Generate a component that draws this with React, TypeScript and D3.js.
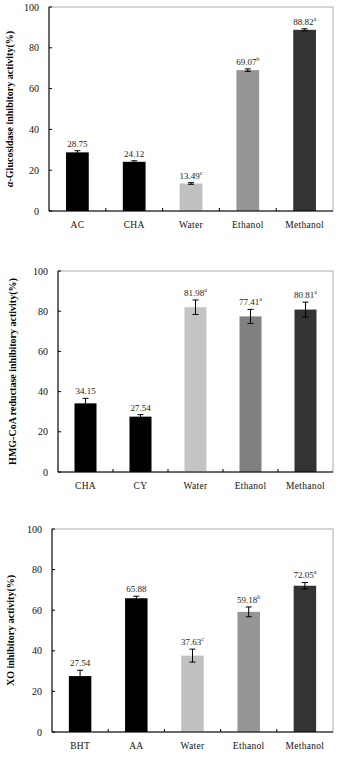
import React from 'react'
import * as d3 from 'd3'

// panel 1: alpha-glucosidase
const glucoCats = ['AC', 'CHA', 'Water', 'Ethanol', 'Methanol']
const glucoVals = [28.75, 24.12, 13.49, 69.07, 88.82]
const glucoErr = [0.8, 0.5, 0.4, 0.6, 0.5]
const glucoSup = ['', '', 'c', 'b', 'a']
const glucoColors = ['#000000', '#000000', '#c0c0c0', '#969696', '#333333']

// panel 2: HMG-CoA reductase
const hmgCats = ['CHA', 'CY', 'Water', 'Ethanol', 'Methanol']
const hmgVals = [34.15, 27.54, 81.98, 77.41, 80.81]
const hmgErr = [2.5, 1.0, 3.6, 3.5, 3.7]
const hmgSup = ['', '', 'a', 'a', 'a']
const hmgColors = ['#000000', '#000000', '#c4c4c4', '#808080', '#333333']

// panel 3: XO
const xoCats = ['BHT', 'AA', 'Water', 'Ethanol', 'Methanol']
const xoVals = [27.54, 65.88, 37.63, 59.18, 72.05]
const xoErr = [2.9, 1.0, 3.2, 2.4, 1.6]
const xoSup = ['', '', 'c', 'b', 'a']
const xoColors = ['#000000', '#000000', '#c0c0c0', '#969696', '#333333']

const yTicks = [0, 20, 40, 60, 80, 100]

const serif = '"Liberation Serif", "Times New Roman", serif'

function Panel(props) {
  const { cats, vals, errs, sups, colors, title, top, left, bottom, titleX } = props
  const right = 333

  const x = d3.scaleBand().domain(cats).range([left, right]).paddingInner(0.6).paddingOuter(0.3)
  const y = d3.scaleLinear().domain([0, 100]).range([bottom, top])
  const step = x.step()

  return (
    <g>
      {/* frame */}
      <rect x={left} y={top} width={right - left} height={bottom - top} fill="none" stroke="#aaaaaa" strokeWidth={1} />
      {cats.map((c, i) => {
        const bx = x(c)
        const v = vals[i]
        const e = errs[i]
        const cx = bx + x.bandwidth() / 2
        return (
          <g key={c}>
            <rect x={bx} y={y(v)} width={x.bandwidth()} height={bottom - y(v)} fill={colors[i]} />
            <line x1={cx} x2={cx} y1={y(v + e)} y2={y(v - e)} stroke="#000" strokeWidth={1} />
            <line x1={cx - 3} x2={cx + 3} y1={y(v + e)} y2={y(v + e)} stroke="#000" strokeWidth={1} />
            <line x1={cx - 3} x2={cx + 3} y1={y(v - e)} y2={y(v - e)} stroke="#000" strokeWidth={1} />
            <text x={cx} y={y(v + e) - 4} textAnchor="middle" fontSize={9} fontFamily={serif} fill="#222">
              {v.toFixed(2)}
              {sups[i] && <tspan fontSize={6} dy={-4}>{sups[i]}</tspan>}
            </text>
            <text x={cx} y={bottom + 17} textAnchor="middle" fontSize={9.5} fontFamily={serif} fill="#111" letterSpacing={0.3}>{c}</text>
            {i > 0 && (
              <line x1={cx - step / 2} x2={cx - step / 2} y1={bottom} y2={bottom - 3} stroke="#000" strokeWidth={1} />
            )}
          </g>
        )
      })}
      {/* axes */}
      <line x1={left} x2={left} y1={top} y2={bottom} stroke="#000" strokeWidth={1} />
      <line x1={left} x2={right} y1={bottom} y2={bottom} stroke="#000" strokeWidth={1} />
      {yTicks.map(t => (
        <g key={t}>
          <line x1={left} x2={left + 3} y1={y(t)} y2={y(t)} stroke="#000" strokeWidth={1} />
          <text x={left - 10} y={y(t) + 3.5} textAnchor="end" fontSize={10} fontFamily={serif} fill="#111">{t}</text>
        </g>
      ))}
      <text
        transform={`translate(${titleX},${(top + bottom) / 2}) rotate(-90)`}
        textAnchor="middle" fontSize={10} fontWeight="bold" fontFamily={serif} fill="#000"
      >
        {title}
      </text>
    </g>
  )
}

export default function App() {
  return (
    <svg width={341} height={758} style={{ position: 'absolute', left: 0, top: 0, background: '#fff' }}>
      <rect width={341} height={758} fill="#fff" />
      <Panel cats={glucoCats} vals={glucoVals} errs={glucoErr} sups={glucoSup} colors={glucoColors}
        title={<><tspan fontStyle="italic">α</tspan>-Glucosidase inhibitory activity(%)</>}
        top={7} bottom={211} left={49} titleX={13} />
      <Panel cats={hmgCats} vals={hmgVals} errs={hmgErr} sups={hmgSup} colors={hmgColors}
        title="HMG-CoA reductase inhibitory activity(%)"
        top={271} bottom={472} left={58} titleX={16} />
      <Panel cats={xoCats} vals={xoVals} errs={xoErr} sups={xoSup} colors={xoColors}
        title="XO inhibitory activity(%)"
        top={529} bottom={732} left={52} titleX={14} />
    </svg>
  )
}
